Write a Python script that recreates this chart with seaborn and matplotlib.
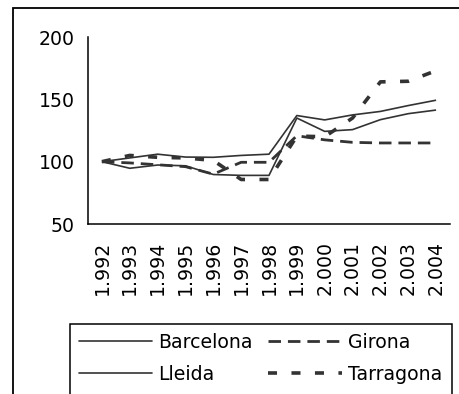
import numpy as np
import pandas as pd
import matplotlib
matplotlib.use("Agg")
import matplotlib.pyplot as plt
from matplotlib.patches import Rectangle
import seaborn as sns

# ==============================================================================
# DATA (index, 1992 = 100)
# ==============================================================================
years = ['1.992', '1.993', '1.994', '1.995', '1.996', '1.997', '1.998',
         '1.999', '2.000', '2.001', '2.002', '2.003', '2.004']
barcelona = [100, 103, 106, 103.7, 103.5, 105, 106, 137, 133.5, 137.5, 140.3, 145, 149.3]
girona = [100, 99, 97.5, 96, 90, 99.5, 99.5, 120.8, 117.5, 115.5, 115, 115, 115]
lleida = [100, 94.7, 97.3, 96.7, 89.7, 89, 89, 135, 124.3, 125.7, 133.7, 138.5, 141.4]
tarragona = [100, 105, 103.5, 103, 101, 85.7, 85.7, 120.5, 120, 135, 164, 164.5, 173]

regions = ['Barcelona', 'Girona', 'Lleida', 'Tarragona']
series = {'Barcelona': barcelona, 'Girona': girona, 'Lleida': lleida, 'Tarragona': tarragona}

df = pd.concat([pd.DataFrame({'year': years, 'value': vals, 'region': name})
                for name, vals in series.items()], ignore_index=True)

# ==============================================================================
# PLOT
# ==============================================================================
sns.set_style('white')
plt.rcParams['font.family'] = ['DejaVu Sans']
plt.rcParams['text.color'] = 'black'
plt.rcParams['xtick.labelcolor'] = 'black'
plt.rcParams['ytick.labelcolor'] = 'black'
fs = 13.6

fig = plt.figure(figsize=(4.59, 3.94), dpi=100)
ax = fig.add_axes([88 / 459, 1 - 224 / 394, (450 - 88) / 459, (224 - 37) / 394])

line_col = '#333333'
palette = {r: line_col for r in regions}
dashes = {'Barcelona': '', 'Girona': (4.5, 2.5), 'Lleida': '', 'Tarragona': (2.5, 4)}
widths = {'Barcelona': 1.2, 'Girona': 2.0, 'Lleida': 1.2, 'Tarragona': 2.6}

sns.lineplot(data=df, x='year', y='value', hue='region', style='region',
             hue_order=regions, style_order=regions, palette=palette,
             dashes=dashes, sort=False, ax=ax, legend='full')

for line, name in zip(ax.get_lines(), regions):
    line.set_linewidth(widths[name])
    line.set_solid_capstyle('butt')
    line.set_dash_capstyle('butt')

ax.set_ylim(50, 200)
ax.set_yticks([50, 100, 150, 200])
ax.set_xlim(-0.5, len(years) - 0.5)
ax.set_xticks(np.arange(-0.5, len(years)), labels=[''] * (len(years) + 1))
ax.set_xticks(np.arange(len(years)), labels=years, minor=True, rotation=90)
ax.tick_params(axis='x', which='minor', length=0, pad=12, labelsize=fs, labelcolor='black')
ax.tick_params(axis='x', which='major', length=3.6, width=1.1, color='black', direction='out')
ax.tick_params(axis='y', length=3.6, width=1.1, color='black', direction='out',
               labelsize=fs, pad=6, labelcolor='black')
ax.set_xlabel('')
ax.set_ylabel('')
sns.despine(ax=ax)
for s in ['left', 'bottom']:
    ax.spines[s].set_color('black')
    ax.spines[s].set_linewidth(1.1)

# legend: rows Barcelona/Girona and Lleida/Tarragona
handles, labels = ax.get_legend_handles_labels()
lookup = dict(zip(labels, handles))
order = ['Barcelona', 'Lleida', 'Girona', 'Tarragona']
for name in order:
    lookup[name].set_linewidth(widths[name])
ax.get_legend().remove()
fig.legend([lookup[n] for n in order], order, loc='upper left', ncol=2,
           bbox_to_anchor=(70 / 459, 1 - 324 / 394),
           fontsize=fs, handlelength=3.9, handletextpad=0.3,
           borderaxespad=0, frameon=False, borderpad=0.45,
           labelspacing=0.72, columnspacing=0.85, labelcolor='black')

# legend box and outer chart frame, both cut by the image edges
fig.patches.append(Rectangle((70 / 459, -0.2), (452 - 70) / 459, 0.2 + 1 - 324 / 394,
                             transform=fig.transFigure, fill=False,
                             edgecolor='black', linewidth=1.1))
fig.patches.append(Rectangle((13 / 459, -0.2), 1.2, 1.2 - 8 / 394,
                             transform=fig.transFigure, fill=False,
                             edgecolor='black', linewidth=1.3))

fig.savefig('out.png', dpi=100)
plt.close(fig)
